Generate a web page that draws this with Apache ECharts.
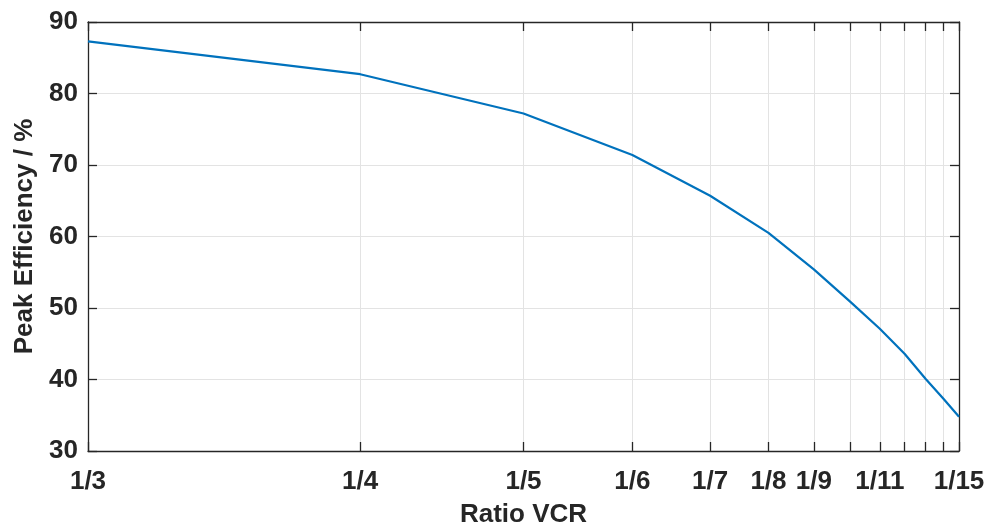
<!DOCTYPE html>
<html>
<head>
<meta charset="utf-8">
<script src="https://cdn.jsdelivr.net/npm/echarts@6/dist/echarts.min.js"></script>
<style>
html,body{margin:0;padding:0;background:#fff;}
#chart{width:990px;height:525px;}
</style>
</head>
<body>
<div id="chart"></div>
<script>
// VCR ratio denominators (x = 1/n)
var denominators = [3, 4, 5, 6, 7, 8, 9, 10, 11, 12, 13, 14, 15];
// Peak efficiency (%) at each ratio
var efficiency = [87.3, 82.7, 77.2, 71.4, 65.7, 60.5, 55.4, 50.9, 47.1, 43.6, 40.1, 37.3, 34.8];
// Labelled x ticks (denominators)
var labelDenoms = [3, 4, 5, 6, 7, 8, 9, 11, 15];
// Y ticks
var yTicks = [30, 40, 50, 60, 70, 80, 90];

var tickVals = denominators.map(function (n) { return 1 / n; });
var labelVals = labelDenoms.map(function (n) { return 1 / n; });
var seriesData = denominators.map(function (n, i) { return [1 / n, efficiency[i]]; });

var FONT = '"Liberation Sans", Arial, Helvetica, sans-serif';
var TXT = '#262626';
var AX = '#262626';
var GRID = '#e3e3e3';

var chart = echarts.init(document.getElementById('chart'), null, {renderer: 'canvas'});

var xBase = {
  type: 'value',
  inverse: true,
  min: 1 / 15,
  max: 1 / 3,
  axisLine: {show: true, onZero: false, lineStyle: {color: AX, width: 1.3}},
  axisTick: {show: true, inside: true, length: 9, customValues: tickVals, lineStyle: {color: AX, width: 1.3}}
};
var yBase = {
  type: 'value',
  min: yTicks[0],
  max: yTicks[yTicks.length - 1],
  interval: 10,
  axisLine: {show: true, onZero: false, lineStyle: {color: AX, width: 1.3}},
  axisTick: {show: true, inside: true, length: 9, lineStyle: {color: AX, width: 1.3}}
};

chart.setOption({
  animation: false,
  backgroundColor: '#ffffff',
  grid: {left: 88, right: 31, top: 22, bottom: 74, containLabel: false, outerBoundsMode: 'none'},
  xAxis: [
    Object.assign({}, xBase, {
      position: 'bottom',
      name: 'Ratio VCR',
      nameLocation: 'middle',
      nameGap: 51,
      nameTextStyle: {color: TXT, fontSize: 26, fontWeight: 'bold', fontFamily: FONT},
      axisLabel: {
        show: true,
        customValues: labelVals,
        margin: 18,
        color: TXT, fontSize: 26, fontWeight: 'bold', fontFamily: FONT,
        formatter: function (v) { return '1/' + Math.round(1 / v); }
      },
      splitLine: {show: true, lineStyle: {color: GRID, width: 1}}
    }),
    Object.assign({}, xBase, {
      position: 'top',
      axisLabel: {show: false},
      splitLine: {show: false}
    })
  ],
  yAxis: [
    Object.assign({}, yBase, {
      position: 'left',
      name: 'Peak Efficiency / %',
      nameLocation: 'middle',
      nameGap: 50,
      nameRotate: 90,
      nameTextStyle: {color: TXT, fontSize: 26, fontWeight: 'bold', fontFamily: FONT},
      axisLabel: {show: true, margin: 10, color: TXT, fontSize: 26, fontWeight: 'bold', fontFamily: FONT},
      splitLine: {show: true, lineStyle: {color: GRID, width: 1}}
    }),
    Object.assign({}, yBase, {
      position: 'right',
      axisLabel: {show: false},
      splitLine: {show: false}
    })
  ],
  series: [{
    type: 'line',
    xAxisIndex: 0,
    yAxisIndex: 0,
    data: seriesData,
    showSymbol: false,
    smooth: false,
    lineStyle: {color: '#0072BD', width: 2.2},
    itemStyle: {color: '#0072BD'},
    z: 5
  }]
});
</script>
</body>
</html>
